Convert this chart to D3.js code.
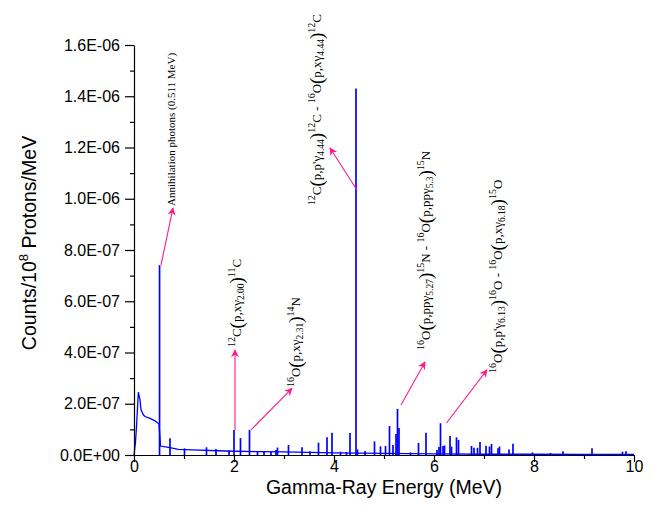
<!DOCTYPE html>
<html>
<head>
<meta charset="utf-8">
<script src="https://cdnjs.cloudflare.com/ajax/libs/d3/7.8.5/d3.min.js"></script>
<style>
  body { margin: 0; background: #fff; }
  svg { display: block; }
</style>
</head>
<body>
<div id="chart"></div>
<script>
// continuum of the spectrum (MeV, counts / 1e8 protons / MeV)
const continuumE = [0, 0.03, 0.05, 0.087, 0.12, 0.14, 0.19, 0.22, 0.32, 0.42, 0.47, 0.50, 0.53, 0.69, 0.89, 1.17, 1.83, 2.5, 3.0, 4.0, 5.0, 6.0, 7.0, 8.0, 9.0, 10.0];
const continuumV = [0, 5.0e-8, 1.1e-7, 2.45e-7, 2.15e-7, 1.76e-7, 1.56e-7, 1.50e-7, 1.43e-7, 1.33e-7, 1.26e-7, 1.22e-7, 3.5e-8, 3.0e-8, 2.2e-8, 2.0e-8, 1.56e-8, 1.3e-8, 1.2e-8, 8e-9, 6e-9, 4e-9, 3e-9, 3e-9, 2e-9, 2e-9];

// discrete gamma lines
const peakE = [0.511, 0.72, 1.01, 1.45, 1.64, 1.90, 2.00, 2.13, 2.31, 2.47, 2.60, 2.74, 2.84, 2.87, 3.09, 3.36, 3.52, 3.69, 3.86, 3.96, 4.13, 4.25, 4.32, 4.44, 4.47, 4.62, 4.81, 4.93, 5.03, 5.11, 5.18, 5.24, 5.27, 5.30, 5.53, 5.69, 5.84, 6.06, 6.10, 6.13, 6.18, 6.21, 6.32, 6.35, 6.45, 6.49, 6.75, 6.80, 6.87, 6.92, 7.04, 7.11, 7.15, 7.28, 7.31, 7.50, 7.58, 7.97, 8.33, 8.58, 9.16, 9.77, 9.84];
const peakV = [7.41e-7, 6.5e-8, 2.6e-8, 3.0e-8, 2.3e-8, 1.8e-8, 9.8e-8, 6.6e-8, 9.8e-8, 1.3e-8, 1.4e-8, 1.3e-8, 2.0e-8, 2.9e-8, 3.9e-8, 3.0e-8, 1.5e-8, 4.8e-8, 6.9e-8, 8.7e-8, 1.3e-8, 1.2e-8, 8.6e-8, 1.43e-6, 2.2e-8, 1.6e-8, 5.3e-8, 3.4e-8, 3.5e-8, 1.13e-7, 3.9e-8, 8.2e-8, 1.8e-7, 1.05e-7, 1.0e-8, 4.7e-8, 8.7e-8, 2.0e-8, 3.1e-8, 1.24e-7, 3.5e-8, 3.7e-8, 7.4e-8, 3.3e-8, 6.9e-8, 5.9e-8, 3.5e-8, 2.8e-8, 2.8e-8, 5.1e-8, 3.6e-8, 3.3e-8, 4.3e-8, 2.6e-8, 3.3e-8, 2.1e-8, 4.4e-8, 1.0e-8, 8e-9, 1.5e-8, 2.6e-8, 1.3e-8, 1.5e-8];

// axis ticks
const xMajor = [0, 2, 4, 6, 8, 10];
const xMinor = [1, 3, 5, 7, 9];
const yMajor = [0, 2e-7, 4e-7, 6e-7, 8e-7, 1.0e-6, 1.2e-6, 1.4e-6, 1.6e-6];
const yMinor = [1e-7, 3e-7, 5e-7, 7e-7, 9e-7, 1.1e-6, 1.3e-6, 1.5e-6];

// annotation texts: [text, kind]
const labelTexts = [
  [["Annihilation photons (0.511 MeV)", "small"]],
  [["12", "sup"], ["C", "n"], ["(", "big"], ["p,x\u03b3", "n"], ["2.00", "sub"], [")", "big"], ["11", "sup"], ["C", "n"]],
  [["16", "sup"], ["O", "n"], ["(", "big"], ["p,x\u03b3", "n"], ["2.31", "sub"], [")", "big"], ["14", "sup"], ["N", "n"]],
  [["12", "sup"], ["C", "n"], ["(", "big"], ["p,p'\u03b3", "n"], ["4.44", "sub"], [")", "big"], ["12", "sup"], ["C - ", "n"],
   ["16", "sup"], ["O", "n"], ["(", "big"], ["p,x\u03b3", "n"], ["4.44", "sub"], [")", "big"], ["12", "sup"], ["C", "n"]],
  [["16", "sup"], ["O", "n"], ["(", "big"], ["p,pp\u03b3", "n"], ["5.27", "sub"], [")", "big"], ["15", "sup"], ["N - ", "n"],
   ["16", "sup"], ["O", "n"], ["(", "big"], ["p,pp\u03b3", "n"], ["5.3", "sub"], [")", "big"], ["15", "sup"], ["N", "n"]],
  [["16", "sup"], ["O", "n"], ["(", "big"], ["p,p'\u03b3", "n"], ["6.13", "sub"], [")", "big"], ["16", "sup"], ["O - ", "n"],
   ["16", "sup"], ["O", "n"], ["(", "big"], ["p,x\u03b3", "n"], ["6.18", "sub"], [")", "big"], ["15", "sup"], ["O", "n"]]
];

// where each label and its arrow sit, in data units
const labelPos = [[0.82, 9.72e-7], [2.14, 4.21e-7], [3.32, 2.65e-7], [3.74, 9.75e-7], [5.92, 4.1e-7], [7.36, 3.2e-7]];
const arrows = [
  [[0.54, 7.41e-7], [0.78, 9.64e-7]],
  [[2.02, 9.8e-8], [2.02, 4.1e-7]],
  [[2.34, 9.8e-8], [3.16, 2.6e-7]],
  [[4.46, 1.034e-6], [3.92, 1.198e-6]],
  [[5.34, 1.95e-7], [5.82, 3.63e-7]],
  [[6.25, 1.25e-7], [7.06, 3.32e-7]]
];

const W = 652, H = 519;
const box = { left: 134, right: 634, top: 45, bottom: 455 };
const sans = "'Liberation Sans', Arial, sans-serif";
const serif = "'Liberation Serif', 'Times New Roman', serif";
const pink = "#ff1a8c";

const svg = d3.select("#chart").append("svg").attr("width", W).attr("height", H);

const x = d3.scaleLinear().domain([0, 10]).range([box.left, box.right]);
const y = d3.scaleLinear().domain([0, 1.6e-6]).range([box.bottom, box.top]);

const fmtE = (v) => {
  if (Math.abs(v) < 1e-12) return "0.0E+00";
  const [m, e] = v.toExponential(1).split("e");
  const n = +e;
  return m + "E" + (n < 0 ? "-" : "+") + String(Math.abs(n)).padStart(2, "0");
};

// spectrum
const cont = continuumE.map((e, i) => [e, continuumV[i]]);
svg.append("path")
  .datum(cont)
  .attr("fill", "none")
  .attr("stroke", "#0000ff")
  .attr("stroke-width", 1.3)
  .attr("d", d3.line().x((d) => x(d[0])).y((d) => y(d[1])));

svg.append("g")
  .selectAll("line")
  .data(peakE.map((e, i) => [e, peakV[i]]))
  .join("line")
  .attr("x1", (d) => x(d[0]))
  .attr("x2", (d) => x(d[0]))
  .attr("y1", y(0))
  .attr("y2", (d) => y(d[1]))
  .attr("stroke", "#0000ff")
  .attr("stroke-width", 1.7);

// axes
const gx = svg.append("g").attr("transform", `translate(0,${box.bottom})`);
gx.call(d3.axisBottom(x).tickValues(xMajor).tickFormat(d3.format("d")).tickSize(7).tickPadding(-1).tickSizeOuter(0));
gx.append("g").call(d3.axisBottom(x).tickValues(xMinor).tickFormat("").tickSize(4).tickSizeOuter(0))
  .select(".domain").remove();

const gy = svg.append("g").attr("transform", `translate(${box.left},0)`);
gy.call(d3.axisLeft(y).tickValues(yMajor).tickFormat(fmtE).tickSize(9).tickPadding(5).tickSizeOuter(0));
gy.append("g").call(d3.axisLeft(y).tickValues(yMinor).tickFormat("").tickSize(4).tickSizeOuter(0))
  .select(".domain").remove();

svg.selectAll(".tick text").attr("font-family", sans).attr("font-size", 16).attr("fill", "#000");
svg.selectAll(".domain, .tick line").attr("stroke", "#000").attr("stroke-width", 1.2);

// axis titles
svg.append("text")
  .attr("x", (box.left + box.right) / 2)
  .attr("y", 494)
  .attr("text-anchor", "middle")
  .attr("font-family", sans)
  .attr("font-size", 19.5)
  .text("Gamma-Ray Energy (MeV)");

const yt = svg.append("text")
  .attr("transform", `translate(36,243) rotate(-90)`)
  .attr("text-anchor", "middle")
  .attr("font-family", sans)
  .attr("font-size", 19.5);
yt.append("tspan").text("Counts/10");
yt.append("tspan").text("8").attr("font-size", 13).attr("dy", -8);
yt.append("tspan").text(" Protons/MeV").attr("dy", 8);

// arrows
svg.append("defs").append("marker")
  .attr("id", "head")
  .attr("viewBox", "0 0 10 10")
  .attr("refX", 9).attr("refY", 5)
  .attr("markerWidth", 11).attr("markerHeight", 8)
  .attr("markerUnits", "userSpaceOnUse")
  .attr("orient", "auto")
  .append("path")
  .attr("d", "M0,0 L10,5 L0,10 L3,5 Z")
  .attr("fill", pink);

svg.append("g")
  .selectAll("line")
  .data(arrows)
  .join("line")
  .attr("x1", (d) => x(d[0][0]))
  .attr("y1", (d) => y(d[0][1]))
  .attr("x2", (d) => x(d[1][0]))
  .attr("y2", (d) => y(d[1][1]))
  .attr("stroke", pink)
  .attr("stroke-width", 1.1)
  .attr("marker-end", "url(#head)");

// rotated reaction labels with super/subscripts
const kinds = {
  n: { size: 13, off: 0 },
  small: { size: 11, off: 0 },
  sup: { size: 10, off: -6 },
  sub: { size: 9.5, off: 3 },
  big: { size: 19, off: 1.5 }
};

labelTexts.forEach((segs, i) => {
  const t = svg.append("text")
    .attr("transform", `translate(${x(labelPos[i][0])},${y(labelPos[i][1])}) rotate(-90)`)
    .attr("font-family", serif)
    .attr("fill", "#000");
  let shift = 0;
  segs.forEach(([s, k]) => {
    const st = kinds[k];
    t.append("tspan")
      .text(s)
      .attr("font-size", st.size)
      .attr("dy", st.off - shift)
      .attr("xml:space", "preserve");
    shift = st.off;
  });
});
</script>
</body>
</html>
